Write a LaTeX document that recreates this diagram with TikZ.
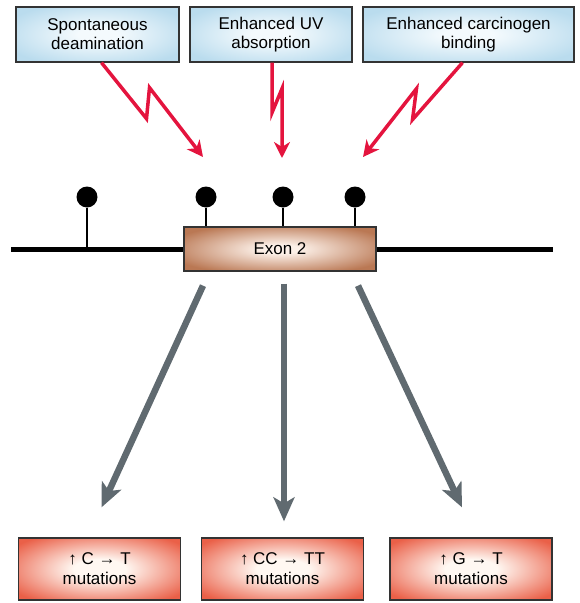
\documentclass[tikz,border=0pt]{standalone}
\usepackage{fontspec}
\setmainfont{Liberation Sans}
\usetikzlibrary{arrows.meta,positioning}
\definecolor{boltred}{RGB}{228,20,62}
\definecolor{flowgray}{RGB}{96,106,112}
\definecolor{skyedge}{RGB}{186,220,238}
\definecolor{skymid}{RGB}{244,250,253}
\definecolor{exonedge}{RGB}{186,120,84}
\definecolor{exonmid}{RGB}{252,240,232}
\definecolor{mutedge}{RGB}{234,96,72}
\definecolor{mutmid}{RGB}{255,248,242}
\pgfdeclareradialshading{skyglow}{\pgfpointorigin}{color(0bp)=(skymid); color(6bp)=(skymid); color(30bp)=(skyedge); color(50bp)=(skyedge)}
\pgfdeclareradialshading{exonglow}{\pgfpointorigin}{color(0bp)=(exonmid); color(5bp)=(exonmid); color(30bp)=(exonedge); color(50bp)=(exonedge)}
\pgfdeclareradialshading{mutglow}{\pgfpointorigin}{color(0bp)=(mutmid); color(8bp)=(mutmid); color(32bp)=(mutedge); color(50bp)=(mutedge)}
\begin{document}
\begin{tikzpicture}[x=1pt,y=-1pt,
    cause/.style={draw=black!80,line width=1.3pt,shade,shading=skyglow,minimum height=55pt,align=center,inner sep=2pt,font=\fontsize{17}{19}\selectfont},
    effect/.style={draw=black!80,line width=1.3pt,shade,shading=mutglow,minimum width=162pt,minimum height=62pt,align=center,font=\fontsize{17}{20}\selectfont},
    zap/.style={draw=boltred,line width=3.5pt,-{Stealth[length=16pt,width=16pt,inset=5pt]}},
    flow/.style={draw=flowgray,line width=6.5pt,-{Stealth[length=24pt,width=21pt,inset=6pt]}},
    site/.style={circle,fill=black,minimum size=21pt,inner sep=0pt}]
    \useasboundingbox (0,0) rectangle (579,603);
    % what raises the rate
    \node[cause,minimum width=163pt] (spont) at (97.5,34.5) {Spontaneous\\deamination};
    \node[cause,minimum width=162pt] (uv) at (271,34.5) {Enhanced UV\\absorption};
    \node[cause,minimum width=211pt] (carc) at (468.5,34.5) {Enhanced carcinogen\\binding};
    \coordinate (hitL) at (203,157);
    \coordinate (hitM) at (282,158);
    \coordinate (hitR) at (363,157);
    \draw[zap] ([xshift=4pt]spont.south) -- ++(45,56) -- ++(3,-31) -- (hitL);
    \draw[zap] ([xshift=1pt]uv.south) -- ++(0,50) -- ++(10,-24) -- (hitM);
    \draw[zap] ([xshift=-6pt]carc.south) -- ++(-50,57) -- ++(4,-31) -- (hitR);
    % gene with exon 2 and methylated sites
    \node[draw=black!80,line width=1.3pt,shade,shading=exonglow,minimum width=192pt,minimum height=44pt,font=\fontsize{17}{19}\selectfont] (exon) at (280,249) {Exon 2};
    \coordinate (dnaL) at (11,249);
    \coordinate (dnaR) at (553,249);
    \draw[line width=5pt] (dnaL) -- (exon);
    \draw[line width=5pt] (exon) -- (dnaR);
    \foreach \n/\x in {1/87,2/206,3/283,4/355}{\node[site] (site\n) at (\x,197) {};}
    \draw[line width=1.3pt] (site1) -- (site1 |- exon.west);
    \foreach \n in {2,3,4}{\draw[line width=1.3pt] (site\n) -- (site\n |- exon.north);}
    % resulting mutations
    \node[effect] (ct) at (99.5,569) {↑ C → T\\mutations};
    \node[effect] (cc) at (282.5,569) {↑ CC → TT\\mutations};
    \node[effect] (gt) at (471,569) {↑ G → T\\mutations};
    \draw[flow] ([xshift=-77pt,yshift=-14pt]exon.south) -- ([xshift=2pt,yshift=30pt]ct.north);
    \draw[flow] ([xshift=4pt,yshift=-12pt]exon.south) -- ([xshift=1.5pt,yshift=16pt]cc.north);
    \draw[flow] ([xshift=78pt,yshift=-14pt]exon.south) -- ([xshift=-9pt,yshift=30pt]gt.north);
\end{tikzpicture}
\end{document}
